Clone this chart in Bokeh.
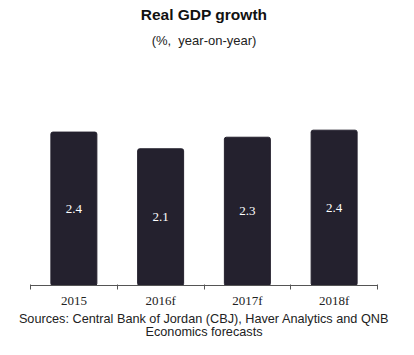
from bokeh.plotting import figure
from bokeh.models import ColumnDataSource, FixedTicker, Range1d, Title, LabelSet
from bokeh.embed import file_html
from bokeh.resources import INLINE

categories = ["2015", "2016f", "2017f", "2018f"]
growth = [2.39, 2.13, 2.31, 2.42]
growth_labels = ["2.4", "2.1", "2.3", "2.4"]

xpos = [i + 0.5 for i in range(len(categories))]
src = ColumnDataSource(dict(
    x=xpos, top=growth, mid=[g / 2 for g in growth], lab=growth_labels))

p = figure(width=398, height=339, output_backend="svg", toolbar_location=None,
           x_range=Range1d(0, len(categories)), y_range=Range1d(0, 3.63),
           min_border_left=30, min_border_right=21, min_border_top=0, min_border_bottom=0)

p.vbar(x="x", top="top", width=0.53, source=src, fill_color="#24212e",
       line_color="#24212e", border_radius=2)

labels = LabelSet(x="x", y="mid", text="lab", source=src, text_color="white",
                  text_font="Liberation Serif", text_font_size="13px",
                  text_align="center", text_baseline="middle")
p.add_layout(labels)

p.yaxis.visible = False
p.xgrid.visible = False
p.ygrid.visible = False
p.outline_line_color = None

ax = p.xaxis[0]
ax.ticker = FixedTicker(ticks=xpos, minor_ticks=list(range(len(categories) + 1)))
ax.major_label_overrides = {x: c for x, c in zip(xpos, categories)}
ax.major_tick_line_color = None
ax.major_tick_out = 0
ax.major_tick_in = 0
ax.minor_tick_out = 4
ax.minor_tick_in = 1
ax.minor_tick_line_color = "#555555"
ax.axis_line_color = "#555555"
ax.major_label_text_font = "Liberation Serif"
ax.major_label_text_font_size = "13px"
ax.major_label_text_color = "#222222"
ax.major_label_standoff = 3

p.add_layout(Title(text="Sources: Central Bank of Jordan (CBJ), Haver Analytics and QNB",
                   align="center", text_font="Liberation Sans", text_font_size="12.7px",
                   text_font_style="normal", text_color="#222222", standoff=0, offset=0,
                   vertical_align="middle"), "below")
p.add_layout(Title(text="Economics forecasts",
                   align="center", text_font="Liberation Sans", text_font_size="12.7px",
                   text_font_style="normal", text_color="#222222", standoff=-3, offset=0,
                   vertical_align="top"), "below")

p.add_layout(Title(text="(%,\u00a0 year-on-year)", align="center", text_font="Liberation Sans",
                   text_font_size="13px", text_font_style="normal", text_color="#222222",
                   offset=0), "above")
p.add_layout(Title(text="Real GDP growth", align="center", text_font="Liberation Sans",
                   text_font_size="15.5px", text_font_style="bold", text_color="#111111",
                   offset=0, standoff=6), "above")

open("out.html", "w").write(file_html(p, INLINE))
